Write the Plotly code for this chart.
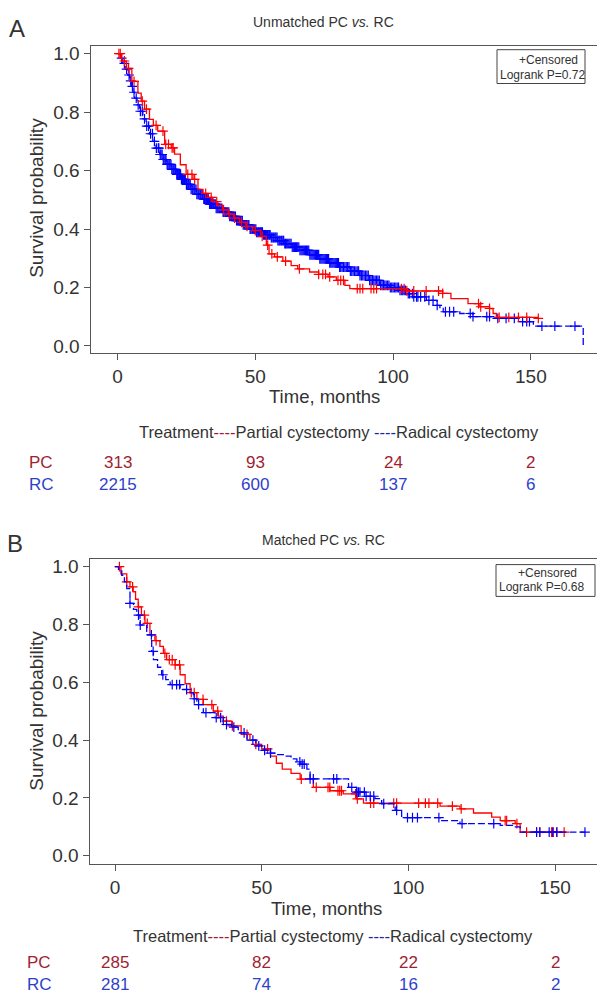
import plotly.graph_objects as go

W, H = 597, 998
FONT = "Liberation Sans"
TXT = "#333333"
RED = "#FF0000"
BLUE = "#0000FF"
PC_TXT = "#A01E32"
RC_TXT = "#2E3FCC"
PC_DASH = "#A01E32"
RC_DASH = "#1A2A9A"

# ---------------- Panel A (unmatched) ----------------
a_pc_t = [0, 1.5, 3.2, 5.2, 7.4, 8.6, 9.8, 11.6, 13.0, 14.6, 17.1, 19.5, 20.7, 22.8, 24.9, 27.4, 29.2,
          31.0, 32.8, 34.6, 36.4, 38.2, 40.1, 42.2, 44.3, 46.6, 49.0, 52.0, 54.0, 55.0, 57.0, 60.0,
          63.0, 65.4, 69.7, 73.0, 76.4, 79.4, 82.5, 84.3, 104.8, 118.0, 121.0, 127.2, 131.5, 135.0,
          136.3, 137.5, 152.7]
a_pc_s = [1.0, 0.975, 0.95, 0.905, 0.865, 0.838, 0.81, 0.775, 0.755, 0.735, 0.69, 0.678, 0.656, 0.62,
          0.587, 0.57, 0.536, 0.522, 0.508, 0.494, 0.48, 0.466, 0.451, 0.437, 0.423, 0.409, 0.395,
          0.375, 0.345, 0.315, 0.305, 0.29, 0.275, 0.264, 0.253, 0.245, 0.236, 0.224, 0.207, 0.196,
          0.188, 0.18, 0.162, 0.145, 0.134, 0.128, 0.111, 0.098, 0.094]
a_pc_cens = [0.5, 1.0, 2.5, 4.0, 6.0, 9.0, 10.5, 14.0, 16.5, 17.5, 18.5, 19.8, 20.2, 25.5, 27.0, 28.0,
             32.0, 34.0, 36.0, 38.5, 40.5, 42.5, 45.0, 47.0, 50.0, 52.5, 54.5, 56.0, 58.0, 61.0, 66.0,
             73.0, 74.5, 75.5, 77.0, 80.0, 81.0, 82.0, 87.0, 88.0, 89.0, 92.0, 93.0, 94.0, 103.0, 104.0,
             105.0, 107.5, 112.0, 116.5, 118.0, 131.0, 131.8, 135.0, 138.5, 142.0, 145.5, 148.5, 152.7]

a_rc_t = [0, 1.0, 1.9, 2.8, 3.7, 4.4, 5.0, 5.6, 6.2, 7.1, 8.0, 9.2, 10.4, 11.6, 12.8, 14.0, 15.3, 16.5,
          17.7, 19.5, 21.3, 23.1, 24.9, 26.7, 28.6, 31.0, 33.4, 35.8, 38.2, 40.6, 43.1, 45.5, 48.0,
          50.5, 53.0, 55.5, 58.0, 60.5, 63.3, 66.1, 69.7, 73.4, 77.0, 80.6, 84.2, 87.9, 91.5, 95.2,
          98.8, 102.4, 104.8, 107.3, 112.1, 115.8, 117.0, 118.2, 124.2, 129.0, 136.3, 146.0, 150.9,
          169.0]
a_rc_s = [1.0, 0.985, 0.967, 0.947, 0.927, 0.907, 0.888, 0.868, 0.848, 0.825, 0.803, 0.777, 0.752,
          0.726, 0.70, 0.677, 0.655, 0.638, 0.621, 0.604, 0.587, 0.57, 0.553, 0.536, 0.519, 0.502,
          0.485, 0.471, 0.458, 0.443, 0.429, 0.414, 0.40, 0.389, 0.38, 0.371, 0.36, 0.35, 0.338,
          0.327, 0.312, 0.298, 0.284, 0.27, 0.256, 0.241, 0.224, 0.207, 0.20, 0.19, 0.179, 0.168,
          0.156, 0.139, 0.128, 0.117, 0.111, 0.10, 0.094, 0.083, 0.068, 0.0]
a_rc_cens = [1.5, 2.5, 3.3, 4.2, 4.8, 5.4, 6.0, 6.8, 7.5, 8.3, 9.0, 9.8, 10.6, 11.3, 12.0, 12.7, 13.4,
             14.1, 14.8, 15.5, 16.2, 16.9, 17.6, 18.3, 19.0, 19.7, 20.4, 21.1, 21.8, 22.5, 23.2, 23.9,
             24.6, 25.3, 26.0, 26.7, 27.4, 28.1, 28.8, 29.5, 30.2, 30.9, 31.6, 32.3, 33.0, 33.7, 34.4,
             35.1, 35.8, 36.5, 37.2, 37.9, 38.6, 39.3, 40.0, 40.7, 41.4, 42.1, 42.8, 43.5, 44.2, 44.9,
             45.6, 46.3, 47.0, 47.7, 48.4, 49.1, 49.8, 50.5, 51.2, 51.9, 52.6, 53.3, 54.0, 54.7, 55.4,
             56.1, 56.8, 57.5, 58.2, 58.9, 59.6, 60.3, 61.0, 61.8, 62.6, 63.4, 64.2, 65.0, 65.8, 66.6,
             67.4, 68.2, 69.0, 69.8, 70.6, 71.4, 72.2, 73.0, 73.8, 74.6, 75.4, 76.2, 77.0, 77.8, 78.6,
             79.4, 80.2, 81.0, 82.0, 83.0, 84.0, 85.0, 86.0, 87.0, 88.0, 89.0, 90.0, 91.0, 92.0, 93.0,
             94.0, 95.0, 96.0, 97.0, 98.0, 99.0, 100.0, 101.0, 102.0, 103.0, 104.0, 105.5, 107.0,
             108.5, 110.0, 111.5, 113.0, 114.5, 116.0, 119.0, 120.5, 122.0, 128.0, 129.0, 134.0, 135.0,
             138.0, 141.0, 144.0, 147.0, 148.5, 149.5, 154.0, 158.7, 166.0,
             # dense band of censoring in the middle of the RC follow-up
             15.0, 15.8, 16.6, 17.3, 18.0, 18.7, 19.4, 20.1, 20.8, 21.5, 22.2, 22.9, 23.6, 24.3, 25.0,
             25.7, 26.4, 27.1, 27.8, 28.5, 29.2, 29.9, 30.6, 31.3, 32.0, 32.7, 33.4, 34.1, 34.8, 35.5,
             36.2, 36.9, 37.6, 38.3, 39.0, 39.7, 40.4, 41.1, 41.8, 42.5, 43.2, 43.9, 44.6, 45.3, 46.0,
             46.7, 47.4, 48.1, 48.8, 49.5, 50.2, 50.9, 51.6, 52.3, 53.0, 53.7, 54.4, 55.1, 55.8, 56.5,
             57.2, 57.9, 58.6, 59.3, 60.0, 60.7, 61.4, 62.2, 63.0, 63.8, 64.6, 65.4, 66.2, 67.0, 67.8,
             68.6, 69.4, 70.2, 71.0, 71.8, 72.6, 73.4, 74.2, 75.0, 75.8, 76.6, 77.4, 78.2, 79.0, 79.8,
             80.6, 81.5, 82.5, 83.5, 84.5, 85.5, 86.5, 87.5, 88.5, 89.5, 90.5, 91.5, 92.5, 93.5, 94.5,
             95.5, 96.5, 97.5, 98.5, 99.5, 100.5, 101.5, 102.5, 103.5, 104.5, 106.0, 107.5, 109.0]

a_times = [0, 50, 100, 150]
a_pc_risk = ["313", "93", "24", "2"]
a_rc_risk = ["2215", "600", "137", "6"]

# ---------------- Panel B (matched) ----------------
b_pc_t = [0, 2.0, 4.0, 5.1, 6.2, 7.0, 7.9, 9.0, 10.2, 11.9, 13.6, 15.3, 16.5, 17.6, 20.5, 22.2, 23.9,
          25.6, 27.9, 30.1, 33.5, 35.2, 36.9, 39.8, 43.0, 46.0, 48.0, 50.0, 53.0, 55.0, 57.0, 60.0,
          63.1, 67.6, 73.3, 77.8, 82.4, 84.7, 110.8, 117.6, 122.2, 128.4, 131.3, 136.4, 138.1, 153.7]
b_pc_s = [1.0, 0.975, 0.947, 0.93, 0.913, 0.887, 0.861, 0.832, 0.804, 0.764, 0.744, 0.724, 0.70,
          0.678, 0.66, 0.626, 0.595, 0.564, 0.541, 0.523, 0.50, 0.483, 0.466, 0.449, 0.42, 0.40,
          0.385, 0.37, 0.345, 0.32, 0.30, 0.285, 0.265, 0.237, 0.225, 0.214, 0.197, 0.182, 0.172,
          0.162, 0.148, 0.134, 0.122, 0.111, 0.082, 0.082]
b_pc_cens = [1.5, 4.0, 6.0, 8.0, 10.0, 11.0, 14.0, 17.0, 18.5, 19.5, 20.5, 22.0, 26.0, 27.0, 30.0, 33.0,
             35.0, 38.0, 40.0, 45.0, 48.0, 52.0, 63.5, 68.6, 72.6, 73.2, 76.0, 76.6, 77.2, 82.0, 82.6,
             87.1, 88.2, 95.0, 96.0, 103.5, 105.8, 107.0, 110.0, 115.0, 118.0, 133.0, 133.5, 137.0,
             140.3, 143.7, 144.8, 148.8, 149.4, 150.6, 153.1]

b_rc_t = [0, 1.2, 2.3, 3.2, 4.0, 5.1, 6.3, 7.4, 8.5, 10.8, 12.5, 13.1, 14.5, 15.9, 17.3, 18.8, 22.2,
          25.6, 26.7, 27.9, 30.1, 34.1, 36.9, 39.8, 42.0, 45.0, 48.0, 50.0, 53.0, 55.0, 58.0, 60.0,
          62.0, 63.1, 65.4, 66.5, 79.6, 82.4, 85.3, 88.6, 90.9, 95.5, 97.7, 110.8, 117.6, 131.3,
          135.9, 138.1, 160.2]
b_rc_s = [1.0, 0.985, 0.97, 0.947, 0.924, 0.873, 0.852, 0.832, 0.798, 0.764, 0.707, 0.678, 0.652,
          0.626, 0.609, 0.592, 0.575, 0.564, 0.543, 0.523, 0.495, 0.478, 0.454, 0.445, 0.425, 0.40,
          0.38, 0.365, 0.355, 0.35, 0.345, 0.335, 0.325, 0.317, 0.30, 0.266, 0.237, 0.22, 0.206,
          0.198, 0.18, 0.157, 0.132, 0.122, 0.111, 0.105, 0.10, 0.082, 0.082]
b_rc_cens = [5.1, 8.0, 8.6, 12.4, 13.0, 16.3, 19.5, 21.0, 22.0, 24.4, 27.0, 28.5, 31.0, 34.5, 36.0,
             38.0, 40.5, 44.0, 47.0, 49.0, 51.0, 53.0, 63.0, 63.8, 64.5, 66.5, 67.6, 74.5, 75.6, 80.7,
             82.4, 83.0, 83.5, 85.0, 85.6, 87.0, 88.2, 91.6, 96.0, 99.7, 101.4, 103.1, 110.4, 118.3,
             129.1, 143.7, 144.8, 148.0, 149.2, 150.6, 160.2]

b_times = [0, 50, 100, 150]
b_pc_risk = ["285", "82", "22", "2"]
b_rc_risk = ["281", "74", "16", "2"]


def step_at(ts, ss, t):
    v = ss[0]
    for ti, si in zip(ts, ss):
        if ti <= t:
            v = si
        else:
            break
    return v


def px(x):
    return x / W


def py(y):
    return 1 - y / H


fig = go.Figure()


def add_curve(ts, ss, cens, color, xa, ya, dash):
    fig.add_trace(go.Scatter(x=ts, y=ss, mode="lines", line=dict(color=color, width=1.3, dash=dash, shape="hv"),
                             xaxis=xa, yaxis=ya, showlegend=False, hoverinfo="skip"))
    fig.add_trace(go.Scatter(x=cens, y=[step_at(ts, ss, c) for c in cens], mode="markers",
                             marker=dict(symbol="cross-thin", size=7, line=dict(color=color, width=1.2)),
                             xaxis=xa, yaxis=ya, showlegend=False, hoverinfo="skip"))


add_curve(a_rc_t, a_rc_s, a_rc_cens, BLUE, "x", "y", "7px,3px")
add_curve(a_pc_t, a_pc_s, a_pc_cens, RED, "x", "y", "solid")
add_curve(b_pc_t, b_pc_s, b_pc_cens, RED, "x2", "y2", "solid")
add_curve(b_rc_t, b_rc_s, b_rc_cens, BLUE, "x2", "y2", "7px,3px")

axis_common = dict(showgrid=False, zeroline=False, showline=True, linecolor="#555555", linewidth=1,
                   ticks="outside", ticklen=6, tickcolor="#555555", tickwidth=1,
                   tickfont=dict(family=FONT, size=19, color=TXT))

yt = [0, 0.2, 0.4, 0.6, 0.8, 1.0]
ytt = ["0.0", "0.2", "0.4", "0.6", "0.8", "1.0"]

fig.update_layout(
    width=W, height=H, margin=dict(l=0, r=0, t=0, b=0),
    paper_bgcolor="white", plot_bgcolor="white",
    xaxis=dict(domain=[px(90.5), 1], range=[-9.8, 174.0], tickvals=a_times, anchor="y", mirror=True,
               **axis_common),
    yaxis=dict(domain=[py(353), py(44)], range=[-0.0238, 1.0272], tickvals=yt, ticktext=ytt, anchor="x",
               **axis_common),
    xaxis2=dict(domain=[px(89.5), 1], range=[-8.7, 164.3], tickvals=b_times, anchor="y2", mirror=True,
                **axis_common),
    yaxis2=dict(domain=[py(867), py(560)], range=[-0.0275, 1.0275], tickvals=yt, ticktext=ytt, anchor="x2",
                **axis_common),
)

ann = []


def T(x, y, text, size, color=TXT, xanchor="center", xref="paper", textangle=0):
    ann.append(dict(x=x, y=py(y), xref=xref, yref="paper", text=text, showarrow=False, xanchor=xanchor,
                    yanchor="middle", textangle=textangle, font=dict(family=FONT, size=size, color=color)))


# panel letters & titles
T(px(17), 27, "A", 24)
T(px(323), 20, "Unmatched PC <i>vs.</i> RC", 14)
T(px(15), 545, "B", 24)
T(px(323), 541, "Matched PC <i>vs.</i> RC", 14)

# axis titles
T(px(37), 197, "Survival probability", 19, textangle=-90)
T(px(37), 713, "Survival probability", 19, textangle=-90)
T(px(324), 397, "Time, months", 18.5)
T(px(326), 912, "Time, months", 18.5)

legend_txt = ("Treatment<span style='color:%s'>----</span>Partial cystectomy "
              "<span style='color:%s'>----</span>Radical cystectomy") % (PC_DASH, RC_DASH)
T(px(339), 433, legend_txt, 16.5)
T(px(333), 940, legend_txt, 16.5)

# at-risk table
T(px(41), 463, "PC", 17, color=PC_TXT)
T(px(41), 485, "RC", 17, color=RC_TXT)
for t, n in zip(a_times, a_pc_risk):
    T(t, 463, n, 17, color=PC_TXT, xref="x")
for t, n in zip(a_times, a_rc_risk):
    T(t, 485, n, 17, color=RC_TXT, xref="x")
T(px(39), 966, "PC", 17, color=PC_TXT)
T(px(39), 988, "RC", 17, color=RC_TXT)
for t, n in zip(b_times, b_pc_risk):
    T(t, 966, n, 17, color=PC_TXT, xref="x2")
for t, n in zip(b_times, b_rc_risk):
    T(t, 988, n, 17, color=RC_TXT, xref="x2")

# censored/logrank boxes
shapes = [
    dict(type="rect", xref="paper", yref="paper", x0=px(497), x1=px(585), y0=py(82), y1=py(48),
         line=dict(color="#444444", width=1), fillcolor="white"),
    dict(type="rect", xref="paper", yref="paper", x0=px(496), x1=px(595), y0=py(598), y1=py(566),
         line=dict(color="#444444", width=1), fillcolor="white"),
]
T(px(580), 58, "+Censored", 12, xanchor="right")
T(px(498), 73, "Logrank P=0.72", 12, xanchor="left")
T(px(579), 574, "+Censored", 12, xanchor="right")
T(px(497), 589, "Logrank P=0.68", 12, xanchor="left")

fig.update_layout(annotations=ann, shapes=shapes)
fig.write_html("out.html", post_script="document.body.style.margin='0';",
               config={"displayModeBar": False})
